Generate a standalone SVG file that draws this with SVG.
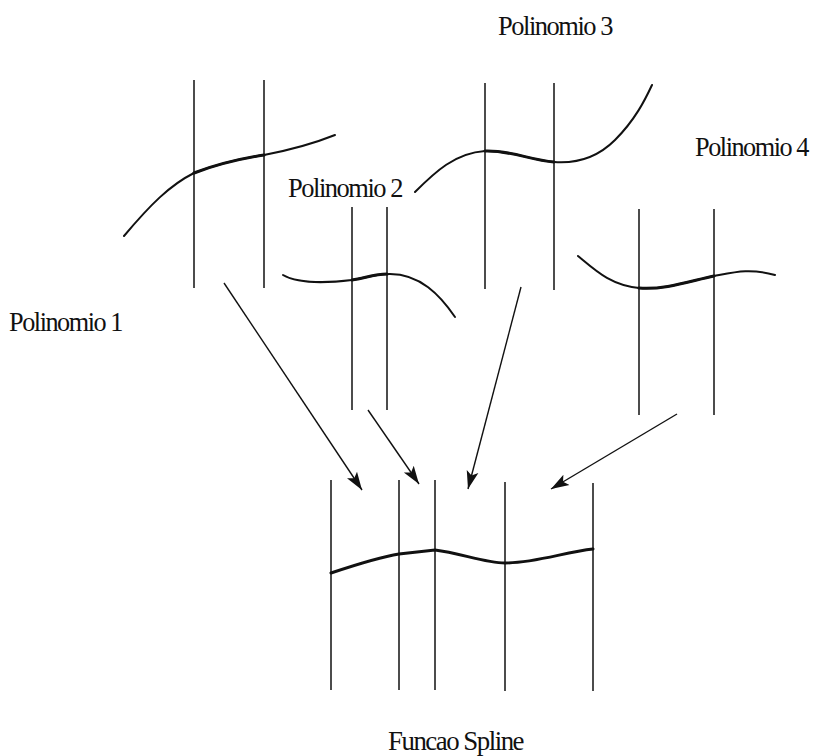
<svg xmlns="http://www.w3.org/2000/svg" width="813" height="756" viewBox="0 0 813 756">
<defs>
<marker id="ah" markerUnits="userSpaceOnUse" markerWidth="20" markerHeight="14" refX="18" refY="7" orient="auto">
<path d="M0,1 L18,7 L0,13 L4,7 Z" fill="#111"/>
</marker>
<style>
.v{stroke:#111;stroke-width:1.5;fill:none}
.c{stroke:#111;stroke-width:2;fill:none;stroke-linecap:round}
.t{font-family:"Liberation Serif","Times New Roman",serif;font-size:27px;fill:#111;letter-spacing:-1.5px}
.a{stroke:#111;stroke-width:1.4;fill:none}
</style>
</defs>
<rect width="813" height="756" fill="#fff"/>
<g id="poly1">
<line class="v" x1="194" y1="80" x2="194" y2="288"/>
<line class="v" x1="264" y1="80" x2="264" y2="288"/>
<path class="c" d="M124,236 C150,205 170,185 194,173 C220,163 245,158 264,155 C290,150 315,143 335,135"/>
<path class="c" style="stroke-width:3" d="M194,173 C220,163 245,158 264,155"/>
<text class="t" x="9" y="331" textLength="113" lengthAdjust="spacingAndGlyphs">Polinomio 1</text>
</g>
<g id="poly2">
<line class="v" x1="352" y1="207" x2="352" y2="410"/>
<line class="v" x1="387" y1="207" x2="387" y2="410"/>
<path class="c" d="M283,275 C295,282 320,284 352,280 C365,278 375,274 390,274 C420,274 440,295 455,317"/>
<path class="c" style="stroke-width:3" d="M352,280 C365,278 375,274 387,274"/>
<text class="t" x="288" y="197" textLength="114" lengthAdjust="spacingAndGlyphs">Polinomio 2</text>
</g>
<g id="poly3">
<line class="v" x1="485" y1="83" x2="485" y2="289"/>
<line class="v" x1="554" y1="83" x2="554" y2="290"/>
<path class="c" d="M415,192 C435,172 455,153 485,151 C510,150 530,160 554,162 C580,164 600,155 615,140 C635,120 645,100 652,85"/>
<path class="c" style="stroke-width:3" d="M485,151 C510,150 530,160 554,162"/>
<text class="t" x="498" y="35" textLength="114" lengthAdjust="spacingAndGlyphs">Polinomio 3</text>
</g>
<g id="poly4">
<line class="v" x1="639" y1="209" x2="639" y2="415"/>
<line class="v" x1="714" y1="209" x2="714" y2="415"/>
<path class="c" d="M578,256 C595,270 610,285 639,288 C665,290 690,281 714,276 C735,272 750,268 775,275"/>
<path class="c" style="stroke-width:3" d="M639,288 C665,290 690,281 714,276"/>
<text class="t" x="695" y="156" textLength="113" lengthAdjust="spacingAndGlyphs">Polinomio 4</text>
</g>
<g id="spline">
<line class="v" x1="331" y1="480" x2="331" y2="690"/>
<line class="v" x1="399" y1="480" x2="399" y2="690"/>
<line class="v" x1="435" y1="480" x2="435" y2="690"/>
<line class="v" x1="505" y1="482" x2="505" y2="691"/>
<line class="v" x1="593" y1="483" x2="593" y2="691"/>
<path class="c" style="stroke-width:3" d="M331,573 C355,565 380,557 399,554 L435,550 C460,553 485,563 505,563 C535,563 565,552 593,549"/>
<text class="t" x="388" y="750" textLength="135" lengthAdjust="spacingAndGlyphs">Funcao Spline</text>
</g>
<g id="connectors">
<line class="a" x1="224" y1="283" x2="362" y2="490" marker-end="url(#ah)"/>
<line class="a" x1="368" y1="410" x2="419" y2="484" marker-end="url(#ah)"/>
<line class="a" x1="521" y1="287" x2="468" y2="489" marker-end="url(#ah)"/>
<line class="a" x1="677" y1="414" x2="551" y2="489" marker-end="url(#ah)"/>
</g>
</svg>
